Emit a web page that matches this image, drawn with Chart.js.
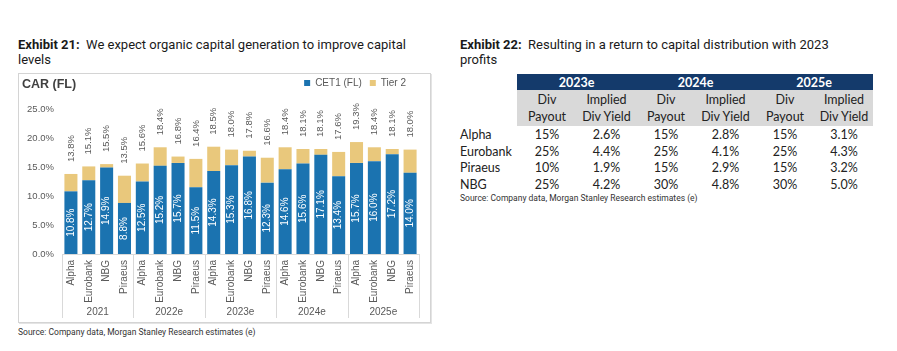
<!DOCTYPE html>
<html>
<head>
<meta charset="utf-8">
<script src="https://cdn.jsdelivr.net/npm/chart.js@4.4.1/dist/chart.umd.min.js"></script>
<style>
  body { margin: 0; width: 897px; height: 351px; background: #fff; position: relative; overflow: hidden; font-family: Roboto, sans-serif; }
  .title { position: absolute; top: 37px; font-size: 13px; line-height: 15px; color: #1a1a1a; }
  .title b { font-weight: 700; }
  .box { position: absolute; left: 18px; top: 73px; width: 411px; height: 248px; border: 1px solid #d4d4d4; box-shadow: 1px 1px 0 #e4e4e4; }
  #car { position: absolute; left: 19px; top: 70px; }
  .car-title { position: absolute; left: 22px; top: 77px; font: bold 12.5px "Liberation Sans", Arial, sans-serif; color: #404040; }
  .source { position: absolute; font-size: 8.5px; color: #333; }
  table { position: absolute; left: 460px; top: 74px; border-collapse: collapse; table-layout: fixed; font-family: Lato, sans-serif; font-size: 12.5px; color: #222; }
  td, th { padding: 0; text-align: center; white-space: nowrap; }
  th.yr { background: #143a6b; color: #fff; font-weight: bold; height: 16px; }
  tr.sub td.h { background: #d9d9d9; height: 36px; line-height: 17px; }
  tr.row td { height: 16.7px; }
  tr.row td.name { text-align: left; }
</style>
</head>
<body>

<div class="title" style="left:18px"><b>Exhibit 21:</b>&nbsp; We expect organic capital generation to improve capital<br>levels</div>
<div class="title" style="left:460px"><b>Exhibit 22:</b>&nbsp; Resulting in a return to capital distribution with 2023<br>profits</div>

<div class="box"></div>
<canvas id="car" width="411" height="252"></canvas>
<div class="car-title">CAR (FL)</div>
<div class="source" style="left:18px; top:327px">Source: Company data, Morgan Stanley Research estimates (e)</div>

<table id="tbl"></table>
<div class="source" style="left:460px; top:193px">Source: Company data, Morgan Stanley Research estimates (e)</div>

<script>
// chart data (CAR, fully loaded)
const banks = ["Alpha", "Eurobank", "NBG", "Piraeus"];
const years = ["2021", "2022e", "2023e", "2024e", "2025e"];
const cet1 = [10.8, 12.7, 14.9, 8.8, 12.5, 15.2, 15.7, 11.5, 14.3, 15.3, 16.8, 12.3, 14.6, 15.6, 17.1, 13.4, 15.7, 16.0, 17.2, 14.0];
const totalCar = [13.8, 15.1, 15.5, 13.5, 15.6, 18.4, 16.8, 16.4, 18.5, 18.0, 17.8, 16.6, 18.4, 18.1, 18.1, 17.6, 19.3, 18.4, 18.1, 18.0];
const yTicks = [0, 5, 10, 15, 20, 25];

// table data
const tableYears = ["2023e", "2024e", "2025e"];
const tableBanks = ["Alpha", "Eurobank", "Piraeus", "NBG"];
const divPayout = [[15, 15, 15], [25, 25, 25], [10, 15, 15], [25, 30, 30]];
const divYield = [[2.6, 2.8, 3.1], [4.4, 4.1, 4.3], [1.9, 2.9, 3.2], [4.2, 4.8, 5.0]];

const categories = years.flatMap(() => banks);
const tier2 = totalCar.map((t, i) => Math.round((t - cet1[i]) * 10) / 10);

const FONT = "'Liberation Sans', Arial, sans-serif";
const GREY = '#595959';

// value labels: CET1 inside the bar, total above it
const barLabels = {
  id: 'barLabels',
  afterDatasetsDraw(chart) {
    const ctx = chart.ctx;
    const m0 = chart.getDatasetMeta(0), m1 = chart.getDatasetMeta(1);
    ctx.save();
    ctx.textBaseline = 'middle';
    m0.data.forEach((bar, i) => {
      ctx.save();
      ctx.translate(bar.x, (bar.y + bar.base) / 2);
      ctx.rotate(-Math.PI / 2);
      ctx.font = '10px ' + FONT;
      ctx.fillStyle = '#fff';
      ctx.textAlign = 'center';
      ctx.fillText(cet1[i].toFixed(1) + '%', 0, 0);
      ctx.restore();

      const top = m1.data[i];
      ctx.save();
      ctx.translate(top.x, top.y - 12);
      ctx.rotate(-Math.PI / 2);
      ctx.font = '9.5px ' + FONT;
      ctx.fillStyle = GREY;
      ctx.textAlign = 'left';
      ctx.fillText(totalCar[i].toFixed(1) + '%', 0, 0);
      ctx.restore();
    });
    ctx.restore();
  }
};

// year group labels and separators under the bank names
const yearGroups = {
  id: 'yearGroups',
  afterDraw(chart) {
    const ctx = chart.ctx, x = chart.scales.x, area = chart.chartArea;
    const half = (x.getPixelForValue(1) - x.getPixelForValue(0)) / 2;
    ctx.save();
    ctx.strokeStyle = '#d9d9d9';
    ctx.lineWidth = 1;
    ctx.font = '10px ' + FONT;
    ctx.fillStyle = GREY;
    ctx.textAlign = 'center';
    ctx.textBaseline = 'middle';
    years.forEach((yr, g) => {
      const l = x.getPixelForValue(g * 4) - half;
      const r = x.getPixelForValue(g * 4 + 3) + half;
      [l, r].forEach(px => {
        ctx.beginPath();
        ctx.moveTo(Math.round(px) + 0.5, area.bottom);
        ctx.lineTo(Math.round(px) + 0.5, area.bottom + 64);
        ctx.stroke();
      });
      ctx.fillText(yr, (l + r) / 2, area.bottom + 58);
    });
    ctx.restore();
  }
};

// keep the plot top fixed below the legend row, and pull the legend in a bit
const legendFix = {
  id: 'legendFix',
  beforeLayout(chart) {
    const lg = chart.legend;
    if (lg && !lg._fixed) {
      const fit = lg.fit;
      lg.fit = function () { fit.call(this); this.height = 39; };
      lg._fixed = true;
    }
  },
  afterLayout(chart) {
    if (chart.legend) chart.legend.right -= 5;
  }
};

new Chart(document.getElementById('car'), {
  type: 'bar',
  data: {
    labels: categories,
    datasets: [
      { label: 'CET1 (FL)', data: cet1, backgroundColor: '#1b73b0', barPercentage: 0.73, categoryPercentage: 1 },
      { label: 'Tier 2', data: tier2, backgroundColor: '#e9c87c', barPercentage: 0.73, categoryPercentage: 1 }
    ]
  },
  options: {
    responsive: false,
    animation: false,
    devicePixelRatio: 1,
    layout: { padding: { left: 0, right: 11, top: 0, bottom: 0 } },
    plugins: {
      legend: {
        position: 'top',
        align: 'end',
        labels: { boxWidth: 6, boxHeight: 6, padding: 8, color: GREY, font: { family: FONT, size: 10 } }
      },
      tooltip: { enabled: false }
    },
    scales: {
      x: {
        stacked: true,
        grid: { display: false, drawTicks: false },
        border: { display: true, color: '#d9d9d9' },
        ticks: { color: GREY, font: { family: FONT, size: 10 }, minRotation: 90, maxRotation: 90, padding: 6, autoSkip: false },
        afterFit(scale) { scale.height = 68; }
      },
      y: {
        stacked: true,
        min: 0,
        max: 25,
        grid: { display: false, drawTicks: false },
        border: { display: false },
        afterBuildTicks(scale) { scale.ticks = yTicks.map(v => ({ value: v })); },
        ticks: { color: GREY, font: { family: FONT, size: 9.5 }, padding: 8, callback: v => v.toFixed(1) + '%' },
        afterFit(scale) { scale.width = 43; }
      }
    }
  },
  plugins: [barLabels, yearGroups, legendFix]
});

// build the dividend table
const tbl = document.getElementById('tbl');
const widths = [57, 60, 59, 60, 59, 60, 58];
let html = '<colgroup>' + widths.map(w => `<col style="width:${w}px">`).join('') + '</colgroup>';
html += '<tr><td></td>' + tableYears.map(y => `<th class="yr" colspan="2">${y}</th>`).join('') + '</tr>';
html += '<tr class="sub"><td></td>' + tableYears.map(() => '<td class="h">Div<br>Payout</td><td class="h">Implied<br>Div Yield</td>').join('') + '</tr>';
tableBanks.forEach((b, r) => {
  html += `<tr class="row"><td class="name">${b}</td>` +
    tableYears.map((y, c) => `<td>${divPayout[r][c]}%</td><td>${divYield[r][c].toFixed(1)}%</td>`).join('') + '</tr>';
});
tbl.innerHTML = html;
</script>
</body>
</html>
